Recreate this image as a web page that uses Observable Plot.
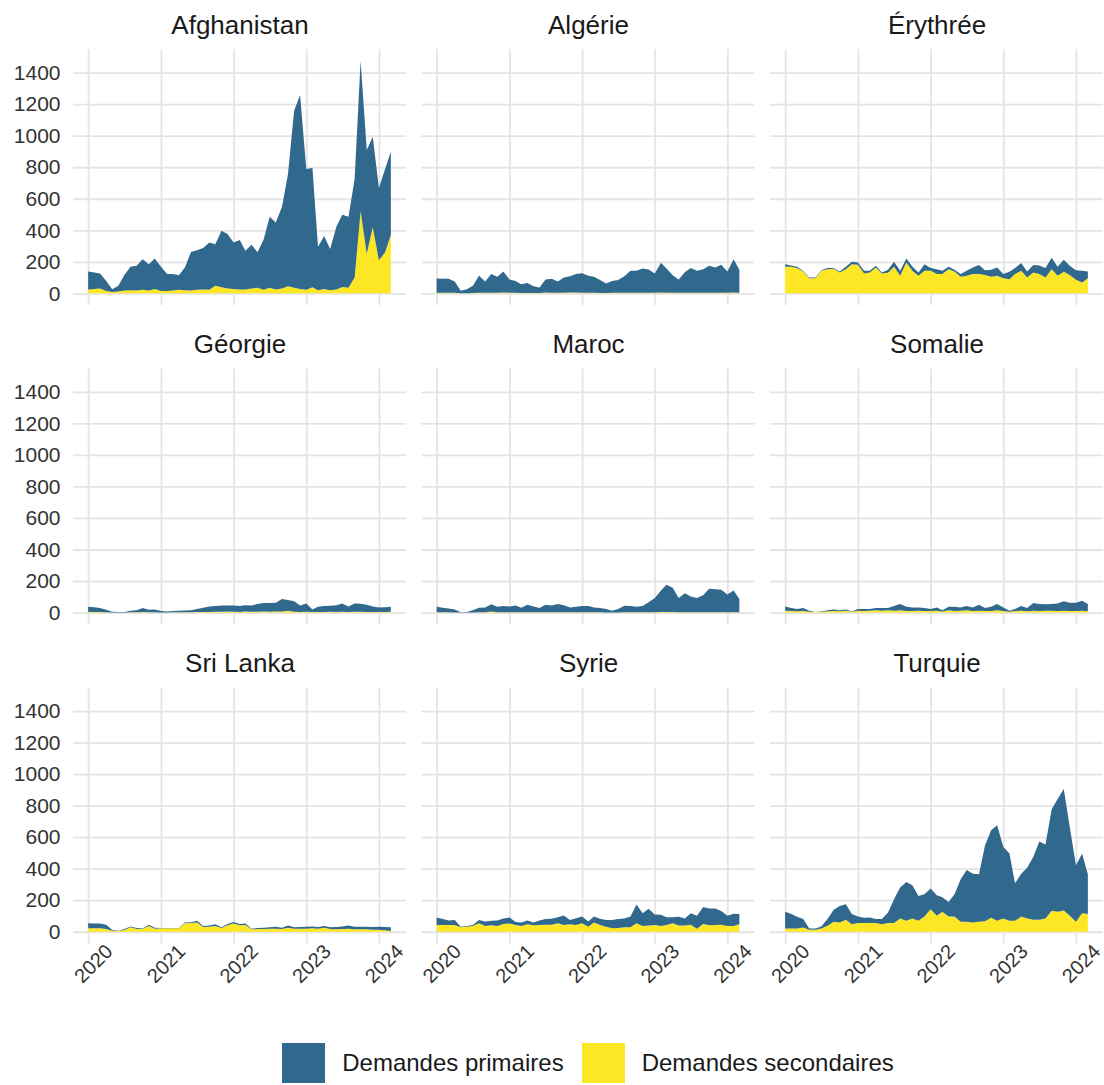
<!DOCTYPE html>
<html><head><meta charset="utf-8">
<script src="https://cdn.jsdelivr.net/npm/d3@7"></script>
<script src="https://cdn.jsdelivr.net/npm/@observablehq/plot@0.6"></script>
<style>
body{margin:0;background:#fff;font-family:"Liberation Sans",Arial,sans-serif;}
#wrap{position:relative;width:1104px;height:1085px;background:#fff;}
#legend{position:absolute;left:73px;right:1px;top:1043px;display:flex;justify-content:center;align-items:center;}
.key{width:43px;height:40px;flex:none;}
.lab{font-size:24px;color:#1a1a1a;margin-left:17px;margin-right:18px;white-space:nowrap;}
svg{overflow:visible;}
</style></head><body>
<div id="wrap"><div id="chart"></div><div id="legend"></div></div>
<script>
const countries = ["Afghanistan","Algérie","Érythrée","Géorgie","Maroc","Somalie","Sri Lanka","Syrie","Turquie"];
const types = ["Demandes primaires","Demandes secondaires"];
const colors = ["#31688e","#fde725"];
const yTicks = [0,200,400,600,800,1000,1200,1400];
const xTickYears = [2020,2021,2022,2023,2024];
// monthly, January 2020 to March 2024 (51 months); "Total" = top of the stack
const afghanistanTotal = [139,132,126,79,26,48,117,168,175,217,185,221,168,122,122,115,164,263,274,287,323,312,397,376,323,338,270,308,261,342,486,450,549,756,1158,1258,788,795,295,363,282,422,498,486,725,1476,909,994,668,788,900];
const afghanistanSecondaires = [25,28,30,15,8,12,18,20,18,22,18,28,15,15,18,22,20,18,22,25,22,48,38,30,28,25,25,30,35,22,35,25,30,45,35,28,22,38,20,28,20,25,40,35,100,520,250,420,210,260,370];
const algerieTotal = [94,92,92,75,16,26,48,111,75,122,105,139,88,79,58,65,45,37,88,92,75,100,109,122,128,111,105,84,62,79,84,109,143,143,158,151,126,194,158,115,88,134,160,143,153,175,164,181,139,217,149];
const algerieSecondaires = [3,3,3,3,1,1,2,3,3,4,3,5,3,3,2,2,2,2,5,4,3,4,6,5,4,3,3,2,2,3,3,4,4,4,4,3,3,6,4,3,3,4,4,4,3,4,4,4,3,5,4];
const erythreeTotal = [185,177,169,142,100,100,147,160,160,139,169,200,196,143,143,175,132,149,200,143,221,170,132,185,160,153,143,169,149,122,143,164,179,147,149,164,122,137,160,192,139,179,177,160,225,169,213,175,147,143,139];
const erythreeSecondaires = [169,169,160,139,96,96,143,153,156,132,153,185,181,126,132,164,126,130,169,111,196,143,111,143,143,122,122,153,139,105,111,122,122,117,105,111,96,90,122,143,100,132,122,100,153,111,137,117,86,69,96];
const georgieTotal = [37,33,28,18,5,3,4,12,14,28,17,20,10,6,10,12,13,14,22,30,38,41,44,45,45,41,46,45,54,60,60,62,86,80,71,45,58,19,37,41,43,47,58,39,58,56,49,39,32,34,36];
const georgieSecondaires = [4,4,3,2,1,1,1,2,2,3,2,2,1,1,2,2,2,2,3,4,4,5,5,6,5,4,6,5,5,6,5,6,6,12,5,4,5,3,4,4,5,4,5,4,5,5,4,4,4,4,5];
const marocTotal = [37,30,26,19,2,4,15,30,32,52,37,41,39,45,30,49,39,28,49,45,54,47,32,37,41,41,32,28,22,11,22,43,41,37,41,65,92,140,176,157,92,123,101,92,110,151,148,144,114,140,86];
const marocSecondaires = [2,2,2,1,0,0,1,2,2,6,2,2,2,2,2,2,2,2,2,2,2,2,2,2,2,2,2,2,1,1,1,2,2,2,2,2,2,3,3,3,2,2,2,2,2,2,2,2,2,2,2];
const somalieTotal = [39,28,22,28,11,4,6,15,19,15,19,6,22,22,22,28,28,28,41,54,37,32,32,28,22,32,15,37,37,32,41,32,49,28,37,54,32,11,22,41,28,60,54,52,54,58,71,62,62,75,54];
const somalieSecondaires = [12,10,8,10,5,3,4,8,10,8,12,5,12,10,12,14,12,14,12,15,10,10,12,10,10,12,6,14,10,12,14,10,12,10,10,14,10,5,10,12,8,12,10,12,12,10,12,10,10,12,8];
const sriLankaTotal = [54,52,52,45,11,6,17,34,24,22,45,26,24,24,24,24,58,60,69,37,39,47,28,49,62,49,52,19,24,26,28,32,26,39,28,30,32,34,30,37,28,30,34,39,32,32,32,30,32,30,28];
const sriLankaSecondaires = [22,22,22,17,6,4,11,28,17,19,37,19,22,22,22,22,54,56,58,30,32,37,24,41,52,41,43,15,17,17,19,19,17,26,19,19,19,22,19,26,17,15,17,19,15,15,15,13,13,9,4];
const syrieTotal = [90,80,71,75,32,37,43,75,65,69,71,84,90,62,58,71,58,71,80,82,92,103,75,86,97,65,97,82,75,75,80,84,97,172,118,146,110,108,92,92,95,84,118,101,157,148,148,131,101,114,112];
const syrieSecondaires = [43,43,43,43,28,32,37,54,37,41,37,49,52,43,37,47,41,43,45,45,54,43,47,43,54,32,58,43,32,22,24,28,28,54,37,39,43,37,43,54,39,39,45,19,49,41,43,45,37,37,47];
const turquieTotal = [126,112,95,80,21,21,34,80,139,164,175,112,97,88,91,80,80,122,206,280,316,295,227,238,274,232,219,189,238,333,392,368,364,547,644,676,539,497,307,368,406,476,573,554,775,842,905,665,421,495,364];
const turquieSecondaires = [21,21,21,27,13,13,21,38,63,59,76,48,55,55,55,55,48,55,55,84,69,84,69,97,143,101,126,97,97,63,63,59,63,67,88,69,84,69,69,97,84,76,76,84,133,126,135,101,63,118,112];

const series = [
  [afghanistanTotal, afghanistanSecondaires],
  [algerieTotal, algerieSecondaires],
  [erythreeTotal, erythreeSecondaires],
  [georgieTotal, georgieSecondaires],
  [marocTotal, marocSecondaires],
  [somalieTotal, somalieSecondaires],
  [sriLankaTotal, sriLankaSecondaires],
  [syrieTotal, syrieSecondaires],
  [turquieTotal, turquieSecondaires]
];
const months = d3.utcMonth.range(new Date(Date.UTC(2020,0,1)), new Date(Date.UTC(2024,3,1)));

const rows = [];
countries.forEach((c, ci) => {
  const [tot, sec] = series[ci];
  months.forEach((m, i) => {
    rows.push({country: c, col: ci % 3, row: Math.floor(ci / 3), date: m, type: types[1], value: sec[i]});
    rows.push({country: c, col: ci % 3, row: Math.floor(ci / 3), date: m, type: types[0], value: Math.max(0, tot[i] - sec[i])});
  });
});

const x0 = Date.UTC(2020,0,1), x1 = Date.UTC(2024,2,1);
const pad = (x1 - x0) * 0.05;
const xTickDates = xTickYears.map(y => new Date(Date.UTC(y,0,1)));
const xLabels = [];
for (let c = 0; c < 3; c++) xTickYears.forEach(y => xLabels.push({col: c, row: 2, year: y, date: new Date(Date.UTC(y,0,1))}));

const W = 1104, H = 1000;
const chart = Plot.plot({
  width: W, height: H,
  marginLeft: 73, marginRight: 1, marginTop: 49, marginBottom: H - 943.4,
  style: {fontFamily: '"Liberation Sans", Arial, sans-serif', fontSize: "21px", color: "#333", background: "#fff", overflow: "visible"},
  x: {type: "utc", domain: [new Date(x0 - pad), new Date(x1 + pad)], axis: null},
  y: {domain: [-74, 1550]},
  fx: {domain: [0,1,2], axis: null, paddingInner: 0.0445, paddingOuter: 0, round: false},
  fy: {domain: [0,1,2], axis: null, paddingInner: 0.198, paddingOuter: 0, round: false},
  color: {domain: types, range: colors},
  marks: [
    Plot.gridY(yTicks, {stroke: "#e4e4e4", strokeOpacity: 1, strokeWidth: 1.8}),
    Plot.gridX(xTickDates, {stroke: "#e4e4e4", strokeOpacity: 1, strokeWidth: 1.8}),
    Plot.areaY(rows, {x: "date", y: "value", z: "type", fill: "type", fx: "col", fy: "row", order: [types[1], types[0]]}),
    Plot.axisY(yTicks, {tickSize: 0, tickPadding: 13, fontSize: 21, label: null, fill: "#333", tickFormat: d => String(d)}),
    Plot.text(countries, {fx: (d, i) => i % 3, fy: (d, i) => Math.floor(i / 3), text: d => d, frameAnchor: "top", lineAnchor: "middle", dy: -24, fontSize: 26, fill: "#1a1a1a"}),
    Plot.text(xLabels, {x: "date", fx: "col", fy: "row", text: d => String(d.year), frameAnchor: "bottom", lineAnchor: "middle", textAnchor: "middle", rotate: -45, dx: 5, dy: 20, fontSize: 20, fill: "#333"})
  ]
});
document.getElementById("chart").appendChild(chart);

const legend = document.getElementById("legend");
types.forEach((t, i) => {
  const k = document.createElement("div"); k.className = "key"; k.style.background = colors[i];
  const l = document.createElement("div"); l.className = "lab"; l.textContent = t;
  if (i === types.length - 1) l.style.marginRight = "0";
  legend.appendChild(k); legend.appendChild(l);
});
</script>
</body></html>
